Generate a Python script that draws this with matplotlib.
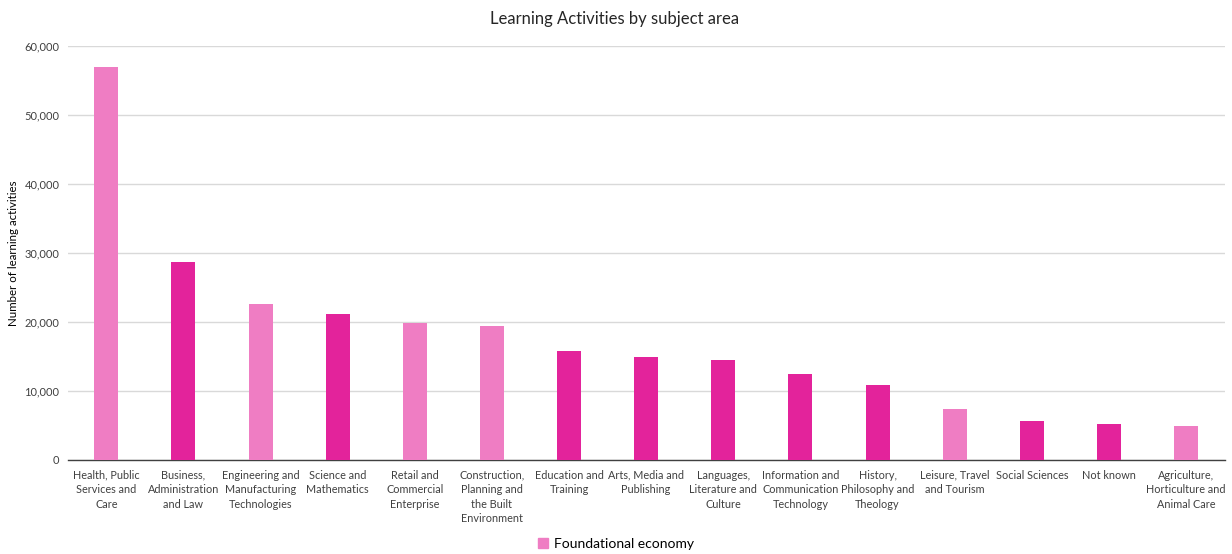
import numpy as np
import matplotlib.pyplot as plt
from matplotlib.patches import Patch
from matplotlib.ticker import FuncFormatter

plt.rcParams['font.family'] = ['Lato', 'DejaVu Sans']

# subject areas in the order shown
subjects = [
    "Health, Public\nServices and\nCare",
    "Business,\nAdministration\nand Law",
    "Engineering and\nManufacturing\nTechnologies",
    "Science and\nMathematics",
    "Retail and\nCommercial\nEnterprise",
    "Construction,\nPlanning and\nthe Built\nEnvironment",
    "Education and\nTraining",
    "Arts, Media and\nPublishing",
    "Languages,\nLiterature and\nCulture",
    "Information and\nCommunication\nTechnology",
    "History,\nPhilosophy and\nTheology",
    "Leisure, Travel\nand Tourism",
    "Social Sciences",
    "Not known",
    "Agriculture,\nHorticulture and\nAnimal Care",
]
activities = [56900, 28700, 22600, 21150, 19850, 19400, 15800, 14950,
              14500, 12450, 10850, 7400, 5650, 5200, 4950]
# True = part of the foundational economy
foundational = [True, False, True, False, True, True, False, False,
                False, False, False, True, False, False, True]

light_pink = '#EF7DC3'
dark_pink = '#E3239B'
colors = [light_pink if f else dark_pink for f in foundational]

fig = plt.figure(figsize=(12.32, 5.54), dpi=100)
ax = fig.add_axes([0.055, 0.170, 0.939, 0.747])

x = np.arange(len(subjects))
ax.bar(x, activities, width=0.31, color=colors, zorder=3)

ax.set_xlim(-0.5, len(subjects) - 0.5)
ax.set_ylim(0, 60000)
ax.set_yticks(np.arange(0, 60001, 10000))
ax.yaxis.set_major_formatter(FuncFormatter(lambda v, p: f"{int(v):,}"))
ax.grid(axis='y', color='#D9D9D9', linewidth=1, zorder=0)

ax.set_xticks(x)
ax.set_xticklabels(subjects, fontsize=7.8, color='#404040', va='top', linespacing=1.4)
ax.tick_params(axis='x', length=0, pad=7)
ax.tick_params(axis='y', length=0, labelsize=8, labelcolor='#404040', pad=6)

for side in ['top', 'right', 'left']:
    ax.spines[side].set_visible(False)
ax.spines['bottom'].set_color('#404040')
ax.spines['bottom'].set_linewidth(1)

ax.set_ylabel("Number of learning activities", fontsize=8.3, color='black', labelpad=4)
fig.text(0.499, 0.965, "Learning Activities by subject area", fontsize=12,
         color='#262626', ha='center', va='center')

fig.legend(handles=[Patch(color=light_pink, label="Foundational economy")],
           loc='center', bbox_to_anchor=(0.5, 0.018), frameon=False, fontsize=10,
           handlelength=0.7, handleheight=0.7, handletextpad=0.4)

fig.savefig('out.png', dpi=100)
